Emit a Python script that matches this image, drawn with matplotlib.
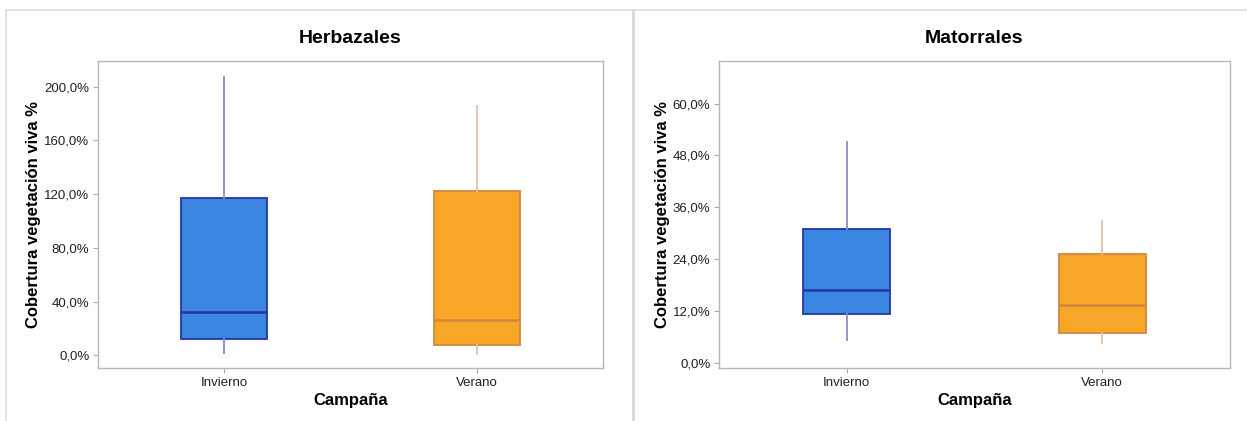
import matplotlib.pyplot as plt
from matplotlib.ticker import FuncFormatter
from matplotlib.lines import Line2D

plt.rcParams['font.family'] = ['Liberation Sans', 'DejaVu Sans']

# Data (percent)
campanas = ["Invierno", "Verano"]
herb_whislo = [1.5, 0.7]
herb_q1 = [11.9, 7.5]
herb_med = [32.0, 26.0]
herb_q3 = [117.2, 122.4]
herb_whishi = [207.5, 185.8]

mat_whislo = [5.4, 4.6]
mat_q1 = [11.4, 6.9]
mat_med = [17.0, 13.4]
mat_q3 = [31.0, 25.2]
mat_whishi = [51.1, 32.9]

herb_ticks = [0, 40, 80, 120, 160, 200]
mat_ticks = [0, 12, 24, 36, 48, 60]

fills = ["#3a85e0", "#f8a628"]
edges = ["#2536a8", "#d0883c"]
whisker_cols = ["#8a8ad0", "#e6bfa6"]


def make_stats(lo, q1, med, q3, hi):
    return [dict(whislo=lo[i], q1=q1[i], med=med[i], q3=q3[i], whishi=hi[i],
                 fliers=[], label=campanas[i]) for i in range(len(campanas))]


def draw(ax, stats, title, ticks, ylim):
    for i, st in enumerate(stats):
        ax.bxp([st], positions=[i + 1], widths=0.34, patch_artist=True,
               showcaps=False, showfliers=False,
               boxprops=dict(facecolor=fills[i], edgecolor=edges[i], linewidth=1.3),
               medianprops=dict(color=edges[i], linewidth=1.8),
               whiskerprops=dict(color=whisker_cols[i], linewidth=1.3))
    ax.set_xlim(0.5, 2.5)
    ax.set_ylim(*ylim)
    ax.set_xticks([1, 2])
    ax.set_xticklabels(campanas)
    ax.set_yticks(ticks)
    ax.yaxis.set_major_formatter(FuncFormatter(lambda v, _: f"{v:.1f}%".replace(".", ",")))
    ax.tick_params(labelsize=9.5, colors="#222222", length=3.5, width=0.8, pad=2.5)
    ax.tick_params(axis="both", color="#aaaaaa")
    for sp in ax.spines.values():
        sp.set_color("#b8b8b8")
        sp.set_linewidth(1.0)
    ax.set_title(title, fontsize=14, fontweight="bold", pad=13)
    ax.set_xlabel("Campaña", fontsize=12, fontweight="bold", labelpad=3)
    ax.set_ylabel("Cobertura vegetación viva %", fontsize=12, fontweight="bold", labelpad=2)


fig = plt.figure(figsize=(12.47, 4.21), dpi=100)
W, H = 1247, 421
ax1 = fig.add_axes([97.7 / W, 1 - 368.3 / H, (603 - 97.7) / W, (368.3 - 60.7) / H])
ax2 = fig.add_axes([718.7 / W, 1 - 368.3 / H, (1230 - 718.7) / W, (368.3 - 60.7) / H])

draw(ax1, make_stats(herb_whislo, herb_q1, herb_med, herb_q3, herb_whishi),
     "Herbazales", herb_ticks, (-9.7, 219.4))
draw(ax2, make_stats(mat_whislo, mat_q1, mat_med, mat_q3, mat_whishi),
     "Matorrales", mat_ticks, (-1.2, 69.9))

# panel frames
fig.add_artist(Line2D([6 / W, 1], [1 - 10 / H, 1 - 10 / H], color="#dddddd", linewidth=1.2))
fig.add_artist(Line2D([6 / W, 6 / W], [0, 1 - 10 / H], color="#dddddd", linewidth=1.2))
fig.add_artist(Line2D([633 / W, 633 / W], [0, 1 - 10 / H], color="#d8d8d8", linewidth=2))

fig.savefig("out.png", dpi=100)
